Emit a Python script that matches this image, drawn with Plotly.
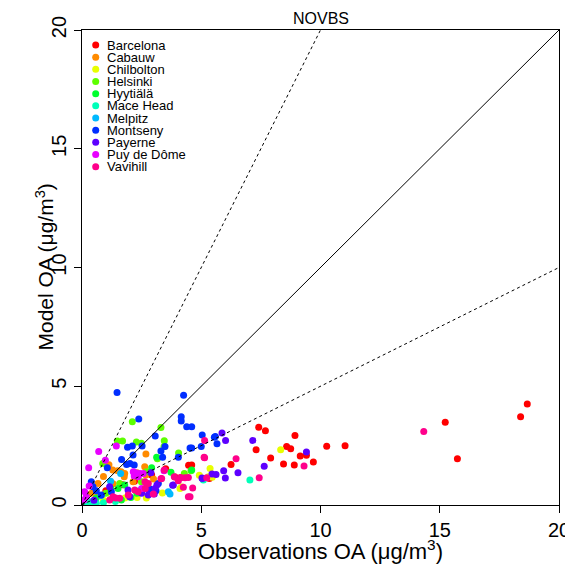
import plotly.graph_objects as go

sites = ["Barcelona", "Cabauw", "Chilbolton", "Helsinki", "Hyytiälä", "Mace Head",
         "Melpitz", "Montseny", "Payerne", "Puy de Dôme", "Vavihill"]
colors = ["#FF0000", "#FF8B00", "#E8FF00", "#5DFF00", "#00FF2E", "#00FFB9",
          "#00B9FF", "#002EFF", "#5D00FF", "#E800FF", "#FF008B"]

barcelona_x = [10.26, 11.03, 15.23, 15.74, 18.39, 18.67, 7.41, 7.69, 7.30, 8.93, 8.58, 8.75, 9.41, 9.15, 9.70,
               7.91, 8.45, 8.90, 6.25, 5.34, 4.60, 4.47, 3.51, 3.90, 4.12, 2.92, 1.70, 1.00, 2.20]
barcelona_y = [2.47, 2.50, 3.48, 1.95, 3.72, 4.25, 3.27, 3.13, 2.33, 2.93, 2.46, 2.37, 2.09, 2.06, 1.81,
               1.98, 1.73, 1.68, 1.71, 1.12, 1.68, 1.67, 1.53, 1.18, 1.15, 1.26, 0.85, 0.60, 1.00]
cabauw_x = [2.68, 1.13, 1.29, 1.50, 1.64, 1.77, 2.31, 2.68, 2.63, 0.67, 2.14, 0.67, 1.79, 0.90, 0.40, 1.30, 3.00]
cabauw_y = [2.15, 1.70, 1.47, 1.44, 1.40, 1.19, 1.36, 1.26, 1.61, 0.91, 0.98, 0.42, 1.33, 1.20, 0.50, 0.90, 1.10]
chilbolton_x = [8.33, 5.37, 4.92, 5.46, 4.19, 3.37, 2.31, 5.30, 4.11, 1.80, 1.20, 2.70, 0.90]
chilbolton_y = [2.33, 1.54, 1.25, 1.17, 0.76, 0.51, 0.32, 1.19, 0.70, 0.30, 0.25, 0.30, 0.20]
helsinki_x = [2.11, 3.31, 3.45, 1.48, 1.70, 2.28, 4.05, 3.16, 0.87, 4.57, 2.49, 3.44, 2.71, 4.29, 1.58, 2.49, 1.00]
helsinki_y = [3.51, 3.26, 2.71, 2.69, 2.69, 2.65, 2.19, 1.95, 1.75, 1.44, 2.60, 2.46, 1.40, 1.33, 0.91, 0.98, 0.50]
hyytiala_x = [2.92, 3.73, 1.79, 1.51, 2.05, 1.65, 4.60, 1.20, 0.60, 2.30, 3.13]
hyytiala_y = [1.57, 1.38, 0.84, 0.70, 0.32, 0.21, 1.47, 0.70, 0.30, 0.50, 2.01]
macehead_x = [7.04, 5.09, 0.32, 0.46, 0.60, 0.20, 0.90, 1.40]
macehead_y = [1.05, 1.05, 0.14, 0.14, 0.07, 0.05, 0.10, 0.15]
melpitz_x = [1.62, 3.62, 3.69, 1.20, 2.40, 0.80]
melpitz_y = [1.33, 0.56, 0.46, 1.00, 0.60, 0.40]
montseny_x = [1.47, 4.26, 2.38, 4.16, 4.16, 4.39, 4.60, 5.04, 3.07, 5.59, 5.66, 5.00, 4.60, 1.91, 2.11, 2.52,
              3.48, 3.31, 5.55, 4.53, 3.38, 4.04, 1.66, 2.01, 2.19, 1.87, 1.06, 2.14, 0.39, 0.46, 0.81, 1.23,
              3.20, 3.10, 2.85, 0.60]
montseny_y = [4.74, 4.62, 3.62, 3.72, 3.54, 3.30, 3.30, 2.95, 2.91, 2.88, 2.58, 2.46, 2.40, 2.43, 2.48, 2.48,
              2.46, 2.27, 2.85, 2.40, 2.01, 2.01, 1.92, 1.75, 1.68, 1.71, 1.57, 2.11, 0.98, 0.77, 0.42, 0.56,
              0.91, 0.60, 0.67, 0.60]
payerne_x = [5.87, 6.02, 7.16, 9.41, 7.64, 5.94, 6.54, 5.45, 5.62, 5.03, 6.01, 2.89, 3.80, 3.14, 3.06, 3.03,
             2.50, 1.16, 1.93, 2.00, 3.83, 5.05, 2.71, 2.78, 0.50]
payerne_y = [3.03, 2.72, 2.72, 2.23, 1.63, 1.44, 1.36, 1.31, 1.28, 1.14, 1.14, 1.36, 0.83, 0.84, 0.69, 0.46,
             0.49, 0.77, 0.63, 0.35, 0.84, 1.12, 0.67, 0.42, 0.20]
puy_x = [1.44, 0.70, 0.98, 0.28, 2.15, 2.19, 2.36, 3.44, 2.24, 2.42, 2.57, 0.11, 0.18, 0.08, 2.50, 0.30]
puy_y = [2.48, 2.25, 1.88, 1.57, 1.40, 1.22, 1.19, 1.44, 1.36, 1.33, 1.33, 0.56, 0.35, 0.21, 0.70, 0.80]
vavihill_x = [14.33, 5.14, 5.14, 6.46, 9.31, 7.43, 5.23, 4.64, 4.53, 3.45, 3.31, 4.32, 2.65, 2.71, 1.41, 1.94,
              1.30, 1.58, 1.16, 2.21, 2.35, 3.34, 3.87, 4.14, 4.46, 2.64, 2.78, 4.04, 4.25, 2.99, 4.46, 5.12]
vavihill_y = [3.09, 2.72, 1.99, 1.95, 1.64, 1.15, 1.15, 0.72, 0.35, 1.47, 1.11, 1.15, 0.69, 0.91, 0.29, 0.42,
              0.35, 0.28, 0.21, 0.63, 0.56, 1.12, 1.19, 1.16, 1.16, 0.98, 0.91, 1.02, 0.75, 0.46, 0.35, 2.01]

site_x = [barcelona_x, cabauw_x, chilbolton_x, helsinki_x, hyytiala_x, macehead_x,
          melpitz_x, montseny_x, payerne_x, puy_x, vavihill_x]
site_y = [barcelona_y, cabauw_y, chilbolton_y, helsinki_y, hyytiala_y, macehead_y,
          melpitz_y, montseny_y, payerne_y, puy_y, vavihill_y]

ref_slopes = [1.0, 2.0, 0.5]
ref_dash = ["solid", "3px,3px", "3px,3px"]
axis_max = 20
tick_vals = [0, 5, 10, 15, 20]

FONT = "Liberation Sans, Arial, Helvetica, sans-serif"

fig = go.Figure()
for name, col, xs, ys in zip(sites, colors, site_x, site_y):
    fig.add_trace(go.Scatter(x=xs, y=ys, mode="markers", name=name,
                             marker=dict(color=col, size=7, line=dict(width=0)),
                             showlegend=False))

for s, d in zip(ref_slopes, ref_dash):
    xe = min(axis_max, axis_max / s)
    fig.add_trace(go.Scatter(x=[0, xe], y=[0, s * xe], mode="lines",
                             line=dict(color="black", width=1, dash=d),
                             showlegend=False, hoverinfo="skip"))

# custom compact legend on an overlay pixel-scaled axis
W, H = 477, 475
leg_y0, leg_dy = 15, 12.17
leg_ys = [leg_y0 + i * leg_dy for i in range(len(sites))]
fig.add_trace(go.Scatter(x=[13.7] * len(sites), y=leg_ys, mode="markers",
                         marker=dict(color=colors, size=7, line=dict(width=0)),
                         xaxis="x2", yaxis="y2", showlegend=False, hoverinfo="skip"))
for name, yy in zip(sites, leg_ys):
    fig.add_annotation(x=22.5, y=yy, xref="x2", yref="y2", text=name, showarrow=False,
                       xanchor="left", yanchor="middle",
                       font=dict(family=FONT, size=13, color="black"))

fig.add_annotation(x=0.5, y=1, xref="paper", yref="paper", yshift=1, text="NOVBS",
                   showarrow=False, xanchor="center", yanchor="bottom",
                   font=dict(family=FONT, size=16, color="black"))

# axis titles as annotations for precise placement
fig.add_annotation(x=0, y=0.5, xref="paper", yref="paper", xshift=-38, text="Model OA (μg/m<sup>3</sup>)",
                   textangle=-90, showarrow=False, xanchor="center", yanchor="middle",
                   font=dict(family=FONT, size=21, color="black"))
fig.add_annotation(x=0.5, y=0, xref="paper", yref="paper", yshift=-45, text="Observations OA (μg/m<sup>3</sup>)",
                   showarrow=False, xanchor="center", yanchor="middle",
                   font=dict(family=FONT, size=22, color="black"))

axis_common = dict(range=[0, axis_max], tickvals=tick_vals, ticks="outside", ticklen=7,
                   tickwidth=1, tickcolor="black", showline=True, linecolor="black",
                   linewidth=1, mirror=True, showgrid=False, zeroline=False, automargin=False,
                   tickfont=dict(family=FONT, size=20, color="black"))

# page body has an 8px margin, so the figure is sized to fill the 573x564 window from (8,8)
fig.update_layout(
    width=565, height=556,
    margin=dict(l=74, r=14, t=22, b=59, pad=0),
    plot_bgcolor="white", paper_bgcolor="white",
    font=dict(family=FONT, color="black"),
    xaxis=dict(**axis_common),
    yaxis=dict(**axis_common, tickangle=-90),
    xaxis2=dict(range=[0, W], overlaying="x", visible=False, domain=[0, 1], automargin=False),
    yaxis2=dict(range=[H, 0], overlaying="y", visible=False, automargin=False),
)

fig.write_html("out.html")
